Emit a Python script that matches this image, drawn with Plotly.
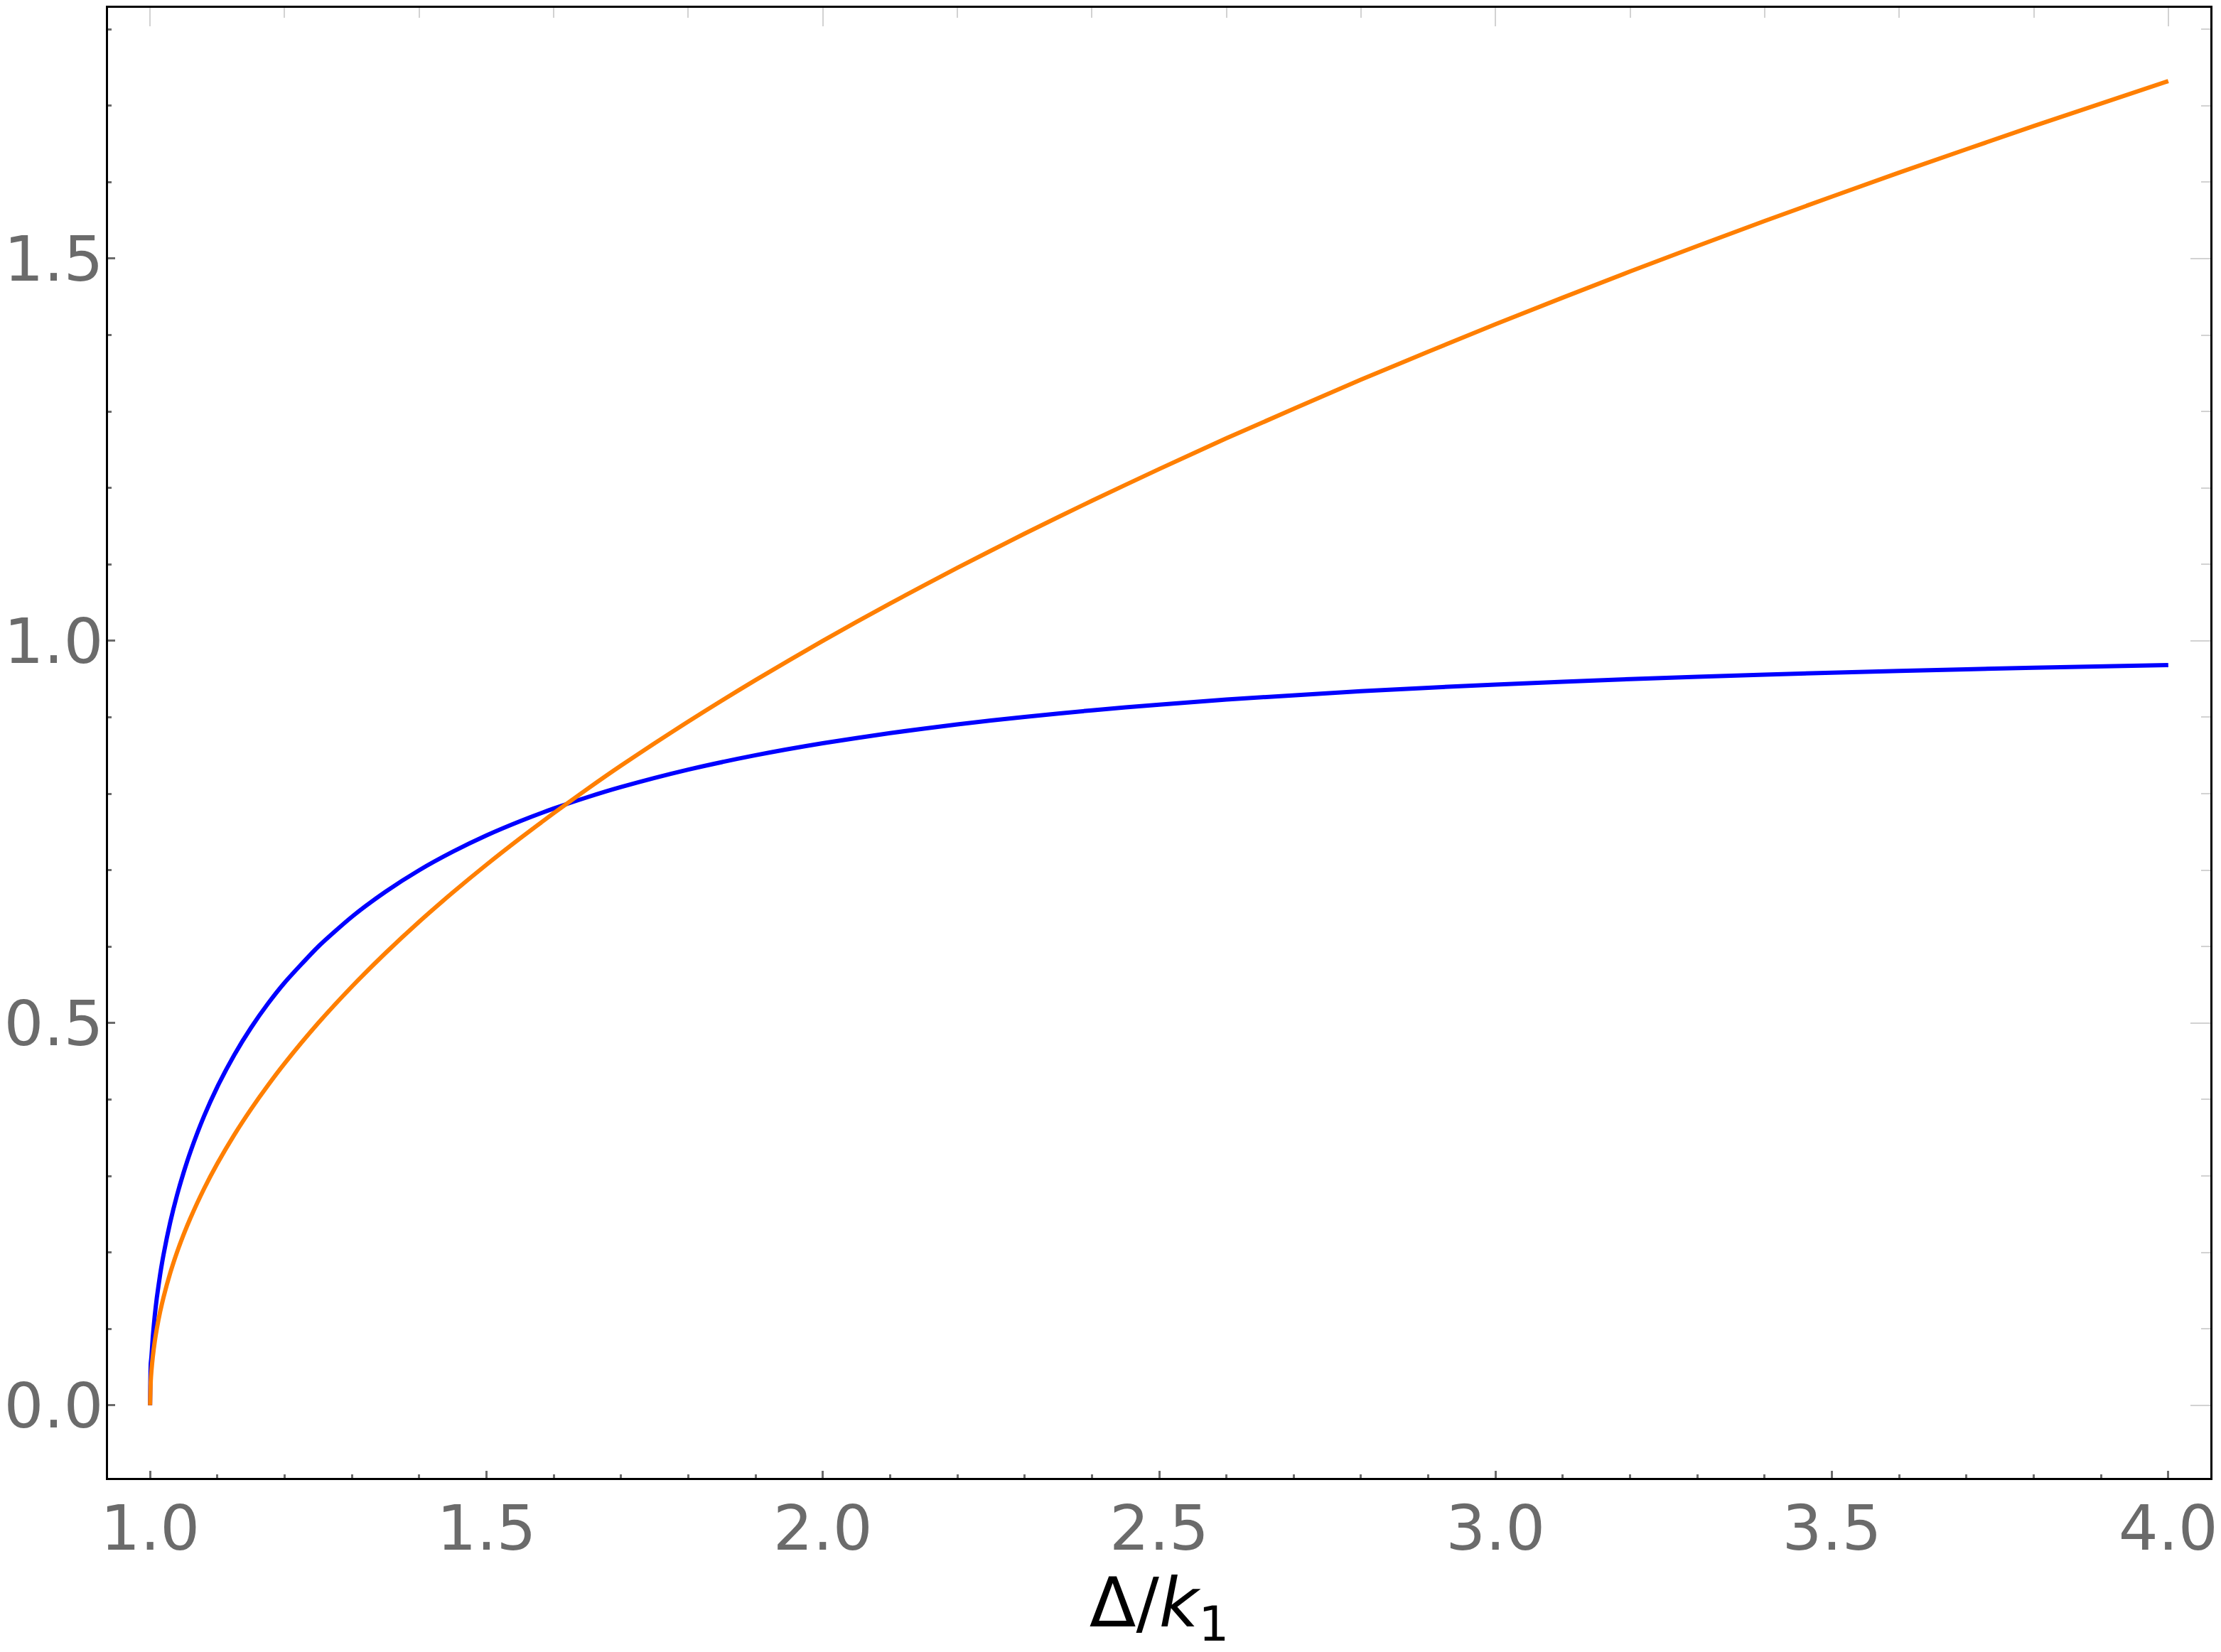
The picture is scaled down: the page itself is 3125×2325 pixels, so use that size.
import plotly.graph_objects as go

# x values (Δ/k1) sampled along the curves
x_vals = [1.0, 1.001, 1.002, 1.004, 1.007, 1.01, 1.015, 1.02, 1.03, 1.04, 1.05, 1.06,
          1.08, 1.1, 1.125, 1.15, 1.175, 1.2, 1.25, 1.3, 1.35, 1.4, 1.45, 1.5, 1.55,
          1.6, 1.65, 1.7, 1.8, 1.9, 2.0, 2.1, 2.2, 2.3, 2.4, 2.5, 2.6, 2.8, 3.0, 3.2,
          3.4, 3.6, 3.8, 4.0]

# blue curve values
blue_vals = [0.0, 0.0547, 0.0632, 0.0892, 0.1177, 0.1404, 0.1713, 0.1971, 0.2396,
             0.2747, 0.3049, 0.3317, 0.3777, 0.4166, 0.4581, 0.4938, 0.5251, 0.5528,
             0.6000, 0.6390, 0.6718, 0.6999, 0.7241, 0.7454, 0.7640, 0.7806, 0.7954,
             0.8087, 0.8315, 0.8503, 0.8660, 0.8793, 0.8907, 0.9005, 0.9091, 0.9165,
             0.9231, 0.9341, 0.9428, 0.9499, 0.9558, 0.9606, 0.9648, 0.9682]

# orange curve values
orange_vals = [0.0, 0.0316, 0.0447, 0.0632, 0.0837, 0.1000, 0.1225, 0.1414, 0.1732,
               0.2000, 0.2236, 0.2449, 0.2828, 0.3162, 0.3536, 0.3873, 0.4183, 0.4472,
               0.5000, 0.5477, 0.5916, 0.6325, 0.6708, 0.7071, 0.7416, 0.7746, 0.8062,
               0.8367, 0.8944, 0.9487, 1.0000, 1.0488, 1.0954, 1.1402, 1.1832, 1.2247,
               1.2649, 1.3416, 1.4142, 1.4832, 1.5492, 1.6125, 1.6733, 1.7321]

x_title = "Δ/<i>k</i><sub>1</sub>"

X_RANGE = [0.9375, 4.0625]
Y_RANGE = [-0.095, 1.828]

TICK_GRAY = "#6b6b6b"
LIGHT = "#d2d2d2"
FONT = "DejaVu Sans"
TICK_SIZE = 88

fig = go.Figure()
fig.add_trace(go.Scatter(x=x_vals, y=blue_vals, mode="lines",
                         line=dict(color="#0000ff", width=6, shape="spline", smoothing=0.6),
                         showlegend=False))
fig.add_trace(go.Scatter(x=x_vals, y=orange_vals, mode="lines",
                         line=dict(color="#ff7f00", width=6, shape="spline", smoothing=0.6),
                         showlegend=False))
# invisible trace to carry the mirrored (top/right) tick axes
fig.add_trace(go.Scatter(x=x_vals, y=orange_vals, mode="lines", xaxis="x2", yaxis="y2",
                         line=dict(width=0), opacity=0, hoverinfo="skip", showlegend=False))

fig.update_layout(
    width=3125, height=2325,
    margin=dict(l=152, r=15, t=11, b=245),
    paper_bgcolor="white", plot_bgcolor="white",
    font=dict(family=FONT, size=TICK_SIZE, color=TICK_GRAY),
    xaxis=dict(
        range=X_RANGE, showgrid=False, zeroline=False, automargin=False,
        showline=True, linecolor="black", linewidth=3, mirror=True,
        ticks="inside", tickcolor=TICK_GRAY, ticklen=10, tickwidth=3,
        tick0=1.0, dtick=0.5, tickformat=".1f", ticklabelstandoff=-8,
        tickfont=dict(family=FONT, size=TICK_SIZE, color=TICK_GRAY),
        minor=dict(ticks="inside", tick0=1.0, dtick=0.1, ticklen=5, tickwidth=3,
                   tickcolor=TICK_GRAY, showgrid=False),
        title=dict(text=x_title, font=dict(family=FONT, size=96, color="black"), standoff=26),
    ),
    yaxis=dict(
        range=Y_RANGE, showgrid=False, zeroline=False, automargin=False,
        showline=True, linecolor="black", linewidth=3, mirror=True,
        ticks="inside", tickcolor=TICK_GRAY, ticklen=10, tickwidth=3,
        tick0=0.0, dtick=0.5, tickformat=".1f", ticklabelstandoff=-14,
        tickfont=dict(family=FONT, size=TICK_SIZE, color=TICK_GRAY),
        minor=dict(ticks="inside", tick0=0.0, dtick=0.1, ticklen=5, tickwidth=3,
                   tickcolor=TICK_GRAY, showgrid=False),
    ),
    xaxis2=dict(
        overlaying="x", side="top", range=X_RANGE, showgrid=False, zeroline=False,
        showline=False, showticklabels=False, automargin=False,
        ticks="inside", tickcolor=LIGHT, ticklen=26, tickwidth=2, tick0=1.0, dtick=1.0,
        minor=dict(ticks="inside", tick0=1.0, dtick=0.2, ticklen=14, tickwidth=2,
                   tickcolor=LIGHT, showgrid=False),
    ),
    yaxis2=dict(
        overlaying="y", side="right", range=Y_RANGE, showgrid=False, zeroline=False,
        showline=False, showticklabels=False, automargin=False,
        ticks="inside", tickcolor=LIGHT, ticklen=28, tickwidth=2, tick0=0.0, dtick=0.5,
        minor=dict(ticks="inside", tick0=0.0, dtick=0.1, ticklen=13, tickwidth=2,
                   tickcolor=LIGHT, showgrid=False),
    ),
)

fig.write_html("out.html")
